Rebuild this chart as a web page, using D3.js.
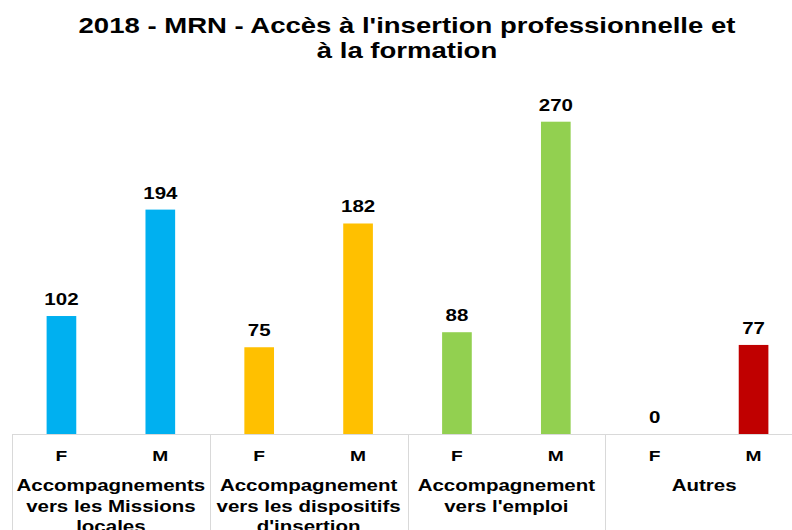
<!DOCTYPE html>
<html>
<head>
<meta charset="utf-8">
<title>MRN 2018</title>
<script src="https://cdn.jsdelivr.net/npm/d3@7"></script>
<style>
    body { margin: 0; background: #fff; }
    text { font-family: "Liberation Sans", Arial, sans-serif; font-weight: bold; fill: #000; }
</style>
</head>
<body>
<div id="chart"></div>
<script>
    const width = 792, height = 530;
    const sx = 1.28; // the picture is stretched sideways

    const titleLines = ["2018 - MRN - Accès à l'insertion professionnelle et", "à la formation"];
    const groups = ["ml", "disp", "emploi", "autres"];
    const groupLabels = [
        ["Accompagnements", "vers les Missions", "locales"],
        ["Accompagnement", "vers les dispositifs", "d'insertion"],
        ["Accompagnement", "vers l'emploi"],
        ["Autres"]
    ];
    const sexes = ["F", "M"];
    const valuesF = [102, 75, 88, 0];
    const valuesM = [194, 182, 270, 77];
    const colorsF = ["#00B0F0", "#FFC000", "#92D050", "#C00000"];
    const colorsM = ["#00B0F0", "#FFC000", "#92D050", "#C00000"];

    const bars = [];
    groups.forEach((g, i) => {
        bars.push({ group: g, sex: "F", value: valuesF[i], color: colorsF[i] });
        bars.push({ group: g, sex: "M", value: valuesM[i], color: colorsM[i] });
    });

    const svg = d3.select("#chart").append("svg")
        .attr("width", width)
        .attr("height", height);

    const x0 = d3.scaleBand().domain(groups).range([12, 803]).padding(0);
    const x1 = d3.scaleBand().domain(sexes).range([0, x0.bandwidth()])
        .paddingInner(0.7).paddingOuter(0.35);
    const y = d3.scaleLinear().domain([0, 300]).range([434, 87]);

    // title
    svg.append("g").selectAll("text")
        .data(titleLines)
        .join("text")
        .attr("transform", (d, i) => `translate(407,${33 + i * 25}) scale(${sx},1)`)
        .attr("text-anchor", "middle")
        .attr("font-size", "21.5px")
        .text(d => d);

    // bars
    svg.append("g").selectAll("rect")
        .data(bars)
        .join("rect")
        .attr("x", d => x0(d.group) + x1(d.sex))
        .attr("width", x1.bandwidth())
        .attr("y", d => y(d.value))
        .attr("height", d => y(0) - y(d.value))
        .attr("fill", d => d.color);

    // value labels
    svg.append("g").selectAll("text")
        .data(bars)
        .join("text")
        .attr("transform", d => `translate(${x0(d.group) + x1(d.sex) + x1.bandwidth() / 2},${y(d.value) - 11}) scale(${sx},1)`)
        .attr("text-anchor", "middle")
        .attr("font-size", "16px")
        .text(d => d.value);

    // axis line and group separators
    const axis = svg.append("g").attr("stroke", "#d9d9d9").attr("stroke-width", 1);
    axis.append("line")
        .attr("x1", 12).attr("x2", width)
        .attr("y1", y(0) + 0.5).attr("y2", y(0) + 0.5);
    axis.selectAll("line.sep")
        .data(groups)
        .join("line")
        .attr("class", "sep")
        .attr("x1", d => Math.round(x0(d)) + 0.5)
        .attr("x2", d => Math.round(x0(d)) + 0.5)
        .attr("y1", y(0))
        .attr("y2", height);

    // F / M tick labels
    svg.append("g").selectAll("text")
        .data(bars)
        .join("text")
        .attr("transform", d => `translate(${x0(d.group) + x1(d.sex) + x1.bandwidth() / 2},461) scale(${sx},1)`)
        .attr("text-anchor", "middle")
        .attr("font-size", "15px")
        .text(d => d.sex);

    // group labels
    const gl = svg.append("g").selectAll("g")
        .data(groups)
        .join("g");
    gl.selectAll("text")
        .data((d, i) => groupLabels[i].map(t => ({ group: d, t: t })))
        .join("text")
        .attr("transform", (d, i) => `translate(${x0(d.group) + x0.bandwidth() / 2},${491 + i * 20.5}) scale(${sx},1)`)
        .attr("text-anchor", "middle")
        .attr("font-size", "16px")
        .text(d => d.t);
</script>
</body>
</html>
